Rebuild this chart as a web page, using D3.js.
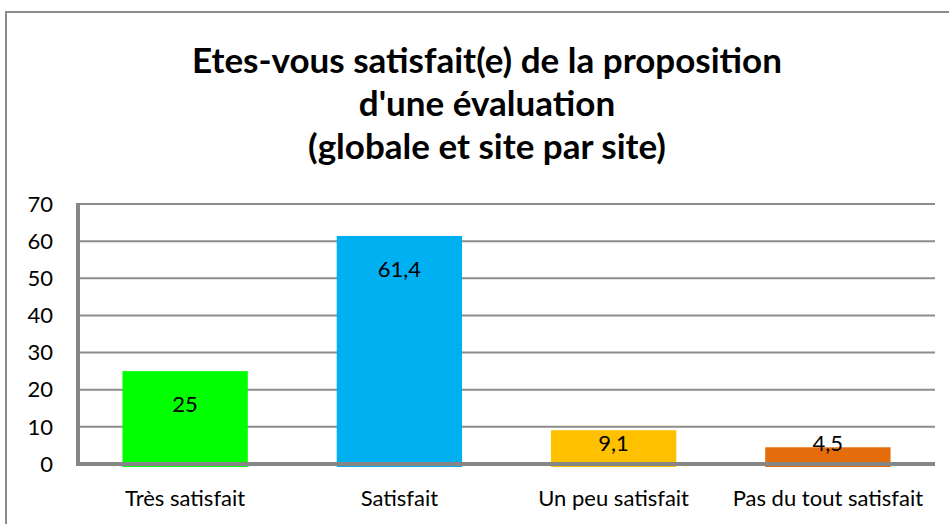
<!DOCTYPE html>
<html>
<head>
<meta charset="utf-8">
<script src="https://cdn.jsdelivr.net/npm/d3@7"></script>
<style>
  body { margin: 0; background: #fff; }
  text { font-family: Lato, "Open Sans", sans-serif; }
</style>
</head>
<body>
<div id="chart"></div>
<script>
const width = 949;
const height = 524;

// data
const categories = ["Très satisfait", "Satisfait", "Un peu satisfait", "Pas du tout satisfait"];
const values = [25, 61.4, 9.1, 4.5];
const barColors = ["#00FF00", "#00B0F0", "#FFC000", "#E46C0A"];
const yTicks = [0, 10, 20, 30, 40, 50, 60, 70];
const titleLines = ["Etes-vous satisfait(e) de la proposition", "d'une évaluation", "(globale et site par site)"];

const margin = { top: 204, right: 14, bottom: 60, left: 78 };
const innerW = width - margin.left - margin.right;
const innerH = height - margin.top - margin.bottom;

const svg = d3.select("#chart")
  .append("svg")
  .attr("width", width)
  .attr("height", height);

// chart frame
svg.append("rect")
  .attr("x", 6)
  .attr("y", 12)
  .attr("width", width + 10)
  .attr("height", height + 10)
  .attr("fill", "#fff")
  .attr("stroke", "#8c8c8c")
  .attr("stroke-width", 2);

// title
const title = svg.append("text")
  .attr("text-anchor", "middle")
  .style("font-weight", "bold")
  .style("font-size", "35px")
  .attr("fill", "#000");

title.selectAll("tspan")
  .data(titleLines)
  .join("tspan")
  .attr("x", 487)
  .attr("y", (d, i) => 73 + i * 43)
  .text(d => d);

const g = svg.append("g")
  .attr("transform", `translate(${margin.left},${margin.top})`);

const x = d3.scaleBand()
  .domain(categories)
  .range([0, innerW])
  .paddingInner(0.415)
  .paddingOuter(0.2075);

const y = d3.scaleLinear()
  .domain([0, 70])
  .range([innerH, 0]);

// gridlines
g.append("g")
  .selectAll("line")
  .data(yTicks.filter(t => t > 0))
  .join("line")
  .attr("x1", 0)
  .attr("x2", innerW)
  .attr("y1", d => y(d))
  .attr("y2", d => y(d))
  .attr("stroke", "#8c8c8c")
  .attr("stroke-width", 2);

// bars
g.selectAll("rect.bar")
  .data(values)
  .join("rect")
  .attr("class", "bar")
  .attr("x", (d, i) => x(categories[i]))
  .attr("y", d => y(d))
  .attr("width", x.bandwidth())
  .attr("height", d => innerH - y(d) + 3)
  .attr("fill", (d, i) => barColors[i]);

// axes lines
g.append("line")
  .attr("x1", 0).attr("x2", 0)
  .attr("y1", y(70) - 1).attr("y2", innerH + 2)
  .attr("stroke", "#868686")
  .attr("stroke-width", 4);

g.append("line")
  .attr("x1", -2).attr("x2", innerW)
  .attr("y1", innerH).attr("y2", innerH)
  .attr("stroke", "#868686")
  .attr("stroke-width", 4);

// y tick labels
g.append("g")
  .selectAll("text")
  .data(yTicks)
  .join("text")
  .attr("x", -25)
  .attr("y", d => y(d))
  .attr("dy", "0.35em")
  .attr("text-anchor", "end")
  .style("font-size", "22px")
  .text(d => d);

// category labels
g.append("g")
  .selectAll("text")
  .data(categories)
  .join("text")
  .attr("x", d => x(d) + x.bandwidth() / 2)
  .attr("y", innerH + 42)
  .attr("text-anchor", "middle")
  .style("font-size", "22px")
  .text(d => d);

// value labels
const fmt = v => String(v).replace(".", ",");
g.selectAll("text.val")
  .data(values)
  .join("text")
  .attr("class", "val")
  .attr("x", (d, i) => x(categories[i]) + x.bandwidth() / 2)
  .attr("y", d => Math.min(y(d) + 33, innerH - 21))
  .attr("dy", "0.35em")
  .attr("text-anchor", "middle")
  .style("font-size", "22px")
  .text(d => fmt(d));
</script>
</body>
</html>
